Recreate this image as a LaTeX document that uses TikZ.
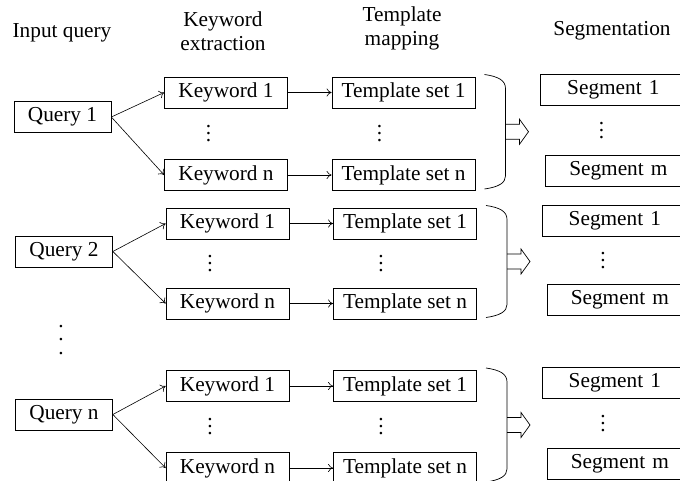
\documentclass[tikz,border=0pt]{standalone}
\usepackage{fontspec}
\setmainfont{Liberation Serif}
\usetikzlibrary{arrows.meta}
\newcommand\fs{\fontsize{21.3}{24}\selectfont}
\newcommand\dotsv[1]{\vbox{\baselineskip=#1\lineskiplimit=-100pt\lineskip=0pt\hbox{.}\hbox{.}\hbox{.}}}
\newcommand\qgroup[6]{%
  % #1 suffix, #2 query label, #3 x shift, #4 query y, #5 top row y, #6 bottom row y
  \node[qb] (q#1) at ({64+#3},#4) {#2};
  \node[kw] (ka#1) at ({227.5+#3},#5) {Keyword 1};
  \node[kw] (kb#1) at ({227.5+#3},#6) {Keyword n};
  \node[dt] (kd#1) at ({210+#3},{(#5+#6)/2}) {\dotsv{7pt}};
  \node[ts] (ta#1) at ({405+#3},#5) {Template set 1};
  \node[ts] (tb#1) at ({405+#3},#6) {Template set n};
  \node[dt] (td#1) at ({381+#3},{(#5+#6)/2}) {\dotsv{7pt}};
  \node[sg] (sa#1) at ({541.5+#3},{#5-3}) {Segment 1};
  \node[sg] (sb#1) at ({546.5+#3},{#6-4}) {Segment m};
  \node[dt] (sd#1) at ({603+#3},{(#5+#6)/2-3}) {\dotsv{7pt}};
  \draw[con] (q#1.east) -- (ka#1.west);
  \draw[con] (q#1.east) -- (kb#1.west);
  \draw[con] (ka#1.east) -- (ta#1.west);
  \draw[con] (kb#1.east) -- (tb#1.west);
  \draw[ln] ({486+#3},{#5-18}) .. controls ({500+#3},{#5-16}) and ({507+#3},{#5-12}) .. ({507+#3},{#5-4})
     -- ({507+#3},{#6+1}) .. controls ({507+#3},{#6+8}) and ({500+#3},{#6+12}) .. ({486+#3},{#6+14});
  \draw[ln] ({507+#3},{(#5+#6)/2-2-7.5}) -- ({521+#3},{(#5+#6)/2-2-7.5}) -- ({521+#3},{(#5+#6)/2-2-12.5})
     -- ({530+#3},{(#5+#6)/2-2}) -- ({521+#3},{(#5+#6)/2-2+12.5}) -- ({521+#3},{(#5+#6)/2-2+7.5})
     -- ({507+#3},{(#5+#6)/2-2+7.5});
}
\begin{document}
\begin{tikzpicture}[x=1pt,y=-1pt,font=\fs,
  bx/.style={draw, line width=0.7pt, inner sep=0pt, minimum height=31},
  kw/.style={bx, minimum width=123},
  ts/.style={bx, minimum width=143},
  qb/.style={bx, minimum width=97},
  sg/.style={bx, text width=146, align=center, anchor=west},
  dt/.style={inner sep=0pt},
  ln/.style={line width=0.7pt},
  con/.style={line width=0.6pt, -{To[length=5pt,width=8pt]}},
  hd/.style={align=center, inner sep=0pt}]
\useasboundingbox (0,0) rectangle (680,481);
\node[hd] (h1) at (62,33) {Input query};
\node[hd] (h2) at (223,31) {Keyword\\extraction};
\node[hd] (h3) at (402,28) {Template\\mapping};
\node[hd] (h4) at (612,31) {Segmentation};
\qgroup{1}{Query 1}{-1.5}{117}{92.5}{175}
\qgroup{2}{Query 2}{0}{251.5}{223.5}{303.5}
\qgroup{3}{Query n}{0}{414.5}{386}{468}
\node[dt] (md) at (61,340) {\dotsv{13.5pt}};
\end{tikzpicture}
\end{document}
